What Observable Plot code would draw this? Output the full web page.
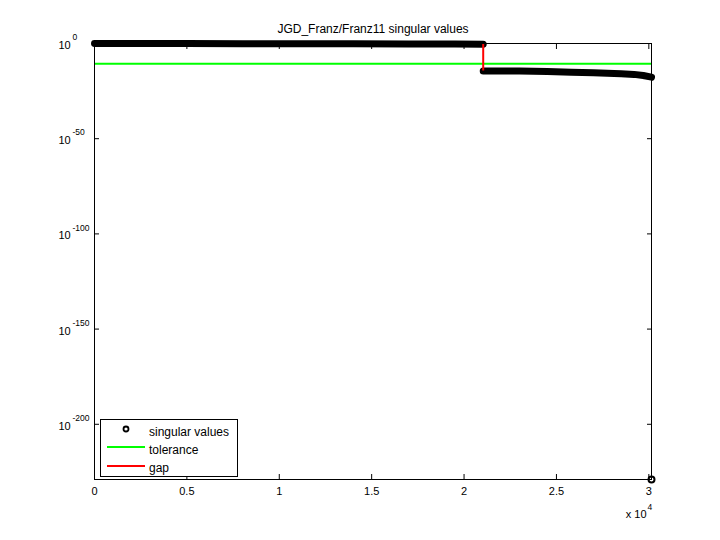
<!DOCTYPE html>
<html>
<head>
<meta charset="utf-8">
<script src="https://cdn.jsdelivr.net/npm/d3@7"></script>
<script src="https://cdn.jsdelivr.net/npm/@observablehq/plot@0.6"></script>
<style>
  html, body { margin: 0; padding: 0; background: #fff; }
  #chart { width: 720px; height: 540px; }
</style>
</head>
<body>
<div id="chart"></div>
<script>
// ---- data ----
const titleText = "JGD_Franz/Franz11 singular values";
const nCols = 30144;
// singular values before the gap (index, value)
const svIndex1 = [1, 2000, 5000, 8000, 11000, 14000, 17000, 19500, 21036];
const svValue1 = [1.0, 0.95, 0.9, 0.85, 0.8, 0.7, 0.6, 0.5, 0.4];
// singular values after the gap
const svIndex2 = [21037, 23000, 24500, 25800, 27000, 28500, 29200, 29700, 30143];
const svValue2 = [3.6e-15, 3.6e-15, 1.8e-15, 8.5e-16, 4e-16, 1.3e-16, 6e-17, 1.6e-17, 2e-18];
// smallest singular value (drawn at the bottom)
const svIndexLast = [30144];
const svValueLast = [1e-229];
const tolerance = 2e-11;
const gapIndex = 21036;
const gapTop = 0.4, gapBottom = 3.6e-15;
const xTicks = [0, 5000, 10000, 15000, 20000, 25000, 30000];
const xTickLabels = ["0", "0.5", "1", "1.5", "2", "2.5", "3"];
const yTicks = [1e0, 1e-50, 1e-100, 1e-150, 1e-200];
const yTickExp = ["0", "-50", "-100", "-150", "-200"];
const legendLabels = ["singular values", "tolerance", "gap"];

const seg = [
  ...svIndex1.map((x, i) => ({x, y: svValue1[i], s: 1})),
  ...svIndex2.map((x, i) => ({x, y: svValue2[i], s: 2}))
];
const last = svIndexLast.map((x, i) => ({x, y: svValueLast[i]}));

const font = "Liberation Sans, Arial, Helvetica, sans-serif";

const chart = Plot.plot({
  width: 720,
  height: 540,
  marginLeft: 94,
  marginRight: 69,
  marginTop: 43,
  marginBottom: 61,
  style: {fontFamily: font, fontSize: "11px", background: "#fff", color: "#000"},
  x: {domain: [0, nCols]},
  y: {type: "log", domain: [1e-229, 1]},
  marks: [
    Plot.line(seg, {x: "x", y: "y", z: "s", stroke: "black", strokeWidth: 7, strokeLinecap: "round", strokeLinejoin: "round"}),
    Plot.ruleY([tolerance], {stroke: "#00ff00", strokeWidth: 2}),
    Plot.ruleX([gapIndex], {y1: gapTop, y2: gapBottom, stroke: "#ff0000", strokeWidth: 2}),
    Plot.dot(last, {x: "x", y: "y", r: 3, stroke: "black", strokeWidth: 2, fill: "white"}),
    Plot.frame({stroke: "black", strokeWidth: 1}),
    Plot.axisX(xTicks, {anchor: "bottom", tickSize: -5, tickFormat: () => "", label: null, stroke: "black"}),
    Plot.axisX(xTicks, {anchor: "top", tickSize: -5, tickFormat: () => "", label: null, stroke: "black"}),
    Plot.axisY(yTicks, {anchor: "left", tickSize: -5, tickFormat: () => "", label: null, stroke: "black"}),
    Plot.axisY(yTicks, {anchor: "right", tickSize: -5, tickFormat: () => "", label: null, stroke: "black"}),
    Plot.text(xTicks, {x: d => d, text: (d, i) => xTickLabels[i], frameAnchor: "bottom", dy: 15, fontSize: 11, fill: "black"}),
    Plot.text(yTicks, {y: d => d, text: () => "10", frameAnchor: "left", dx: -36, dy: 2, textAnchor: "start", fontSize: 11, fill: "black"}),
    Plot.text(yTicks, {y: d => d, text: (d, i) => yTickExp[i], frameAnchor: "left", dx: -22, dy: -6, textAnchor: "start", fontSize: 8.5, fill: "black"}),
    Plot.text(["x 10"], {frameAnchor: "bottom-right", dx: -5, dy: 38, textAnchor: "end", fontSize: 11, fill: "black"}),
    Plot.text(["4"], {frameAnchor: "bottom-right", dx: -4, dy: 30, textAnchor: "start", fontSize: 8.5, fill: "black"}),
    Plot.text([titleText], {frameAnchor: "top", dy: -19, fontSize: 12, fill: "black"})
  ]
});

document.getElementById("chart").appendChild(chart);

// legend (box in the lower-left corner of the axes)
const svg = d3.select(chart);
const lg = svg.append("g").attr("font-family", font).attr("font-size", 12).attr("text-anchor", "start");
lg.append("rect").attr("x", 100.5).attr("y", 419.5).attr("width", 137).attr("height", 57)
  .attr("fill", "white").attr("stroke", "black");
const rows = [432, 450, 468];
lg.append("circle").attr("cx", 126).attr("cy", 429).attr("r", 2.5)
  .attr("fill", "white").attr("stroke", "black").attr("stroke-width", 1.8);
lg.append("line").attr("x1", 107).attr("x2", 145).attr("y1", 447).attr("y2", 447)
  .attr("stroke", "#00ff00").attr("stroke-width", 2);
lg.append("line").attr("x1", 107).attr("x2", 145).attr("y1", 466).attr("y2", 466)
  .attr("stroke", "#ff0000").attr("stroke-width", 2);
legendLabels.forEach((t, i) => {
  lg.append("text").attr("x", 149).attr("y", rows[i]).attr("dy", "0.35em")
    .attr("text-anchor", "start").attr("fill", "black").text(t);
});
</script>
</body>
</html>
